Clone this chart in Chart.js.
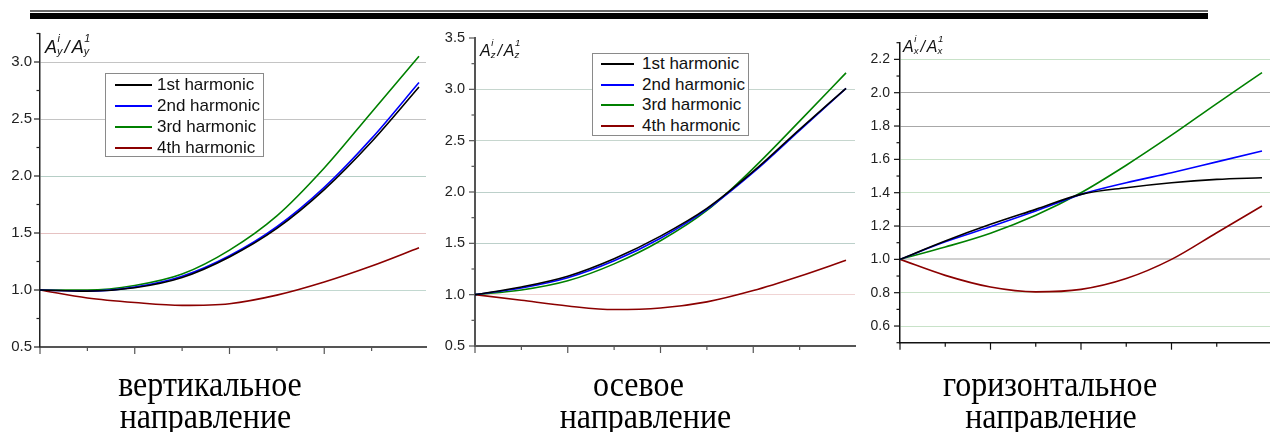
<!DOCTYPE html>
<html><head><meta charset="utf-8">
<script src="https://cdn.jsdelivr.net/npm/chart.js@4.4.1/dist/chart.umd.min.js"></script>
<style>
html,body{margin:0;padding:0;background:#fff;}
body{width:1270px;height:432px;overflow:hidden;position:relative;font-family:"Liberation Sans",Arial,sans-serif;}
canvas{position:absolute;}
.bar1{position:absolute;left:30px;top:10px;width:1178px;height:1.5px;background:#666}
.bar2{position:absolute;left:30px;top:13px;width:1178px;height:6px;background:#000}
.legend{position:absolute;background:#fff;border:1px solid #8a8a8a;box-sizing:border-box;color:#111}
.legend .ln{position:absolute;height:2px}
.legend .tx{position:absolute;white-space:nowrap;font-size:17px;line-height:20px}
.cap{position:absolute;font-family:"Liberation Serif","Times New Roman",serif;font-size:32px;color:#000;white-space:nowrap;line-height:32px;transform:translateX(-50%) scaleY(1.12);transform-origin:50% 100%}
.ttl{position:absolute;font-style:italic;color:#111;white-space:nowrap;line-height:1}
.ttl .sc{position:relative;display:inline-block;width:0.42em;height:1em;vertical-align:baseline}
.ttl .sc span{position:absolute;left:0.05em;font-size:0.6em;line-height:1}
.ttl .sc .up{top:-0.2em}
.ttl .sc .dn{top:1.05em;left:0}
.ttl .sl{margin:0 0.12em 0 0}
</style></head>
<body>
<div class="bar1"></div><div class="bar2"></div>
<canvas id="c1" width="430" height="345" style="left:0;top:20px"></canvas>
<canvas id="c2" width="430" height="345" style="left:430px;top:20px"></canvas>
<canvas id="c3" width="410" height="345" style="left:860px;top:20px"></canvas>
<div id="overlay"></div>
<script>
// ---------- data ----------
const xSteps = [0, 1, 2, 3, 4, 5, 6, 7, 8];
const seriesNames = ['1st harmonic', '2nd harmonic', '3rd harmonic', '4th harmonic'];
const seriesColors = ['#000000', '#0000ff', '#008000', '#8b0000'];

// vertical direction
const vert1st = [1.0, 0.99, 1.02, 1.11, 1.29, 1.54, 1.88, 2.30, 2.78];
const vert2nd = [1.0, 0.99, 1.025, 1.12, 1.30, 1.555, 1.90, 2.33, 2.82];
const vert3rd = [1.0, 1.0, 1.04, 1.14, 1.35, 1.65, 2.07, 2.56, 3.05];
const vert4th = [1.0, 0.93, 0.89, 0.865, 0.88, 0.955, 1.07, 1.21, 1.37];

// axial direction
const axial1st = [1.0, 1.075, 1.18, 1.35, 1.57, 1.84, 2.20, 2.61, 3.01];
const axial2nd = [1.0, 1.065, 1.165, 1.33, 1.55, 1.83, 2.19, 2.60, 3.01];
const axial3rd = [1.0, 1.045, 1.135, 1.30, 1.525, 1.82, 2.23, 2.69, 3.16];
const axial4th = [1.0, 0.945, 0.89, 0.855, 0.87, 0.93, 1.04, 1.18, 1.335];

// horizontal direction
const horiz1st = [1.0, 1.11, 1.21, 1.30, 1.39, 1.43, 1.46, 1.48, 1.49];
const horiz2nd = [1.0, 1.105, 1.195, 1.29, 1.39, 1.46, 1.52, 1.585, 1.65];
const horiz3rd = [1.0, 1.074, 1.157, 1.265, 1.40, 1.565, 1.745, 1.935, 2.12];
const horiz4th = [1.0, 0.904, 0.834, 0.805, 0.82, 0.885, 1.0, 1.16, 1.32];

// labelled y ticks
const yLabelsVert = [0.5, 1.0, 1.5, 2.0, 2.5, 3.0];
const yLabelsAxial = [0.5, 1.0, 1.5, 2.0, 2.5, 3.0, 3.5];
const yLabelsHoriz = [0.6, 0.8, 1.0, 1.2, 1.4, 1.6, 1.8, 2.0, 2.2];

const axisSubs = ['y', 'z', 'x'];
const captions = [['вертикальное', 'направление'], ['осевое', 'направление'], ['горизонтальное', 'направление']];

// ---------- styling ----------
const near = (a, b) => Math.abs(a - b) < 1e-6;
const panels = [
  { id: 'c1', series: [vert1st, vert2nd, vert3rd, vert4th], labels: yLabelsVert,
    yMin: 0.5, yMax: 3.25, yStep: 0.25, xMax: 8.148, yW: 40, xH: 18, padTop: 13.5, padRight: 4,
    fontSize: 15, labelPad: 8, yAxisColor: '#222', xAxisColor: '#555', yAxisW: 1.5, xAxisW: 2,
    grid: { '3.0': '#c4c4c4', '2.5': '#c4c4c4', '2.0': '#b6cec6', '1.5': '#e6c2c2', '1.0': '#c2d8d0' }, gridW: {} },
  { id: 'c2', series: [axial1st, axial2nd, axial3rd, axial4th], labels: yLabelsAxial,
    yMin: 0.5, yMax: 3.5, yStep: 0.25, xMax: 8.194, yW: 45, xH: 19, padTop: 18, padRight: 5,
    fontSize: 14.5, labelPad: 10, yAxisColor: '#555', xAxisColor: '#555', yAxisW: 2, xAxisW: 2,
    grid: { '3.0': '#c6d6ce', '2.5': '#c6d6ce', '2.0': '#bcd0ca', '1.5': '#bcd0ca', '1.0': '#f0d4d4' }, gridW: {} },
  { id: 'c3', series: [horiz1st, horiz2nd, horiz3rd, horiz4th], labels: yLabelsHoriz,
    yMin: 0.5, yMax: 2.3, yStep: 0.1, xMax: 8.177, yW: 40, xH: 22.3, padTop: 22.7, padRight: 0,
    fontSize: 14, labelPad: 10, yAxisColor: '#111', xAxisColor: '#111', yAxisW: 1.5, xAxisW: 1.5,
    grid: { '2.2': '#c8e2c8', '2.0': '#a8a8a8', '1.8': '#a8a8a8', '1.6': '#c8e2c8', '1.4': '#c8e2c8',
            '1.2': '#a8a8a8', '1.0': '#d0d0d0', '0.8': '#c8e2c8', '0.6': '#c8e2c8' }, gridW: { '1.0': 2 } }
];

function makeTickPlugin(p) {
  return {
    id: 'axTicks',
    afterDraw(chart) {
      const ctx = chart.ctx, xs = chart.scales.x, ys = chart.scales.y;
      ctx.save();
      ctx.lineWidth = 1.2;
      ctx.strokeStyle = p.yAxisColor;
      ys.ticks.forEach(t => {
        const major = p.labels.some(l => near(l, t.value));
        const len = major ? 6 : 3.5;
        const py = ys.getPixelForValue(t.value);
        ctx.beginPath(); ctx.moveTo(ys.right - len, py); ctx.lineTo(ys.right, py); ctx.stroke();
      });
      ctx.strokeStyle = p.xAxisColor;
      xs.ticks.forEach(t => {
        if (!near(t.value, Math.round(t.value))) return;
        const major = Math.round(t.value) % 2 === 0;
        const len = major ? 7 : 4;
        const px = xs.getPixelForValue(t.value);
        ctx.beginPath(); ctx.moveTo(px, xs.top); ctx.lineTo(px, xs.top + len); ctx.stroke();
      });
      ctx.restore();
    }
  };
}

function zeroPad(s) { s.paddingLeft = 0; s.paddingRight = 0; s.paddingTop = 0; s.paddingBottom = 0; }

panels.forEach(p => {
  const datasets = p.series.map((arr, i) => ({
    label: seriesNames[i],
    data: xSteps.map((x, j) => ({ x: x, y: arr[j] })),
    borderColor: seriesColors[i], borderWidth: 1.6, pointRadius: 0,
    cubicInterpolationMode: 'monotone', fill: false
  }));
  new Chart(document.getElementById(p.id), {
    type: 'line',
    data: { datasets },
    options: {
      responsive: false, animation: false, devicePixelRatio: 1,
      layout: { padding: { left: 0, top: p.padTop, right: p.padRight, bottom: 0 } },
      plugins: { legend: { display: false }, tooltip: { enabled: false } },
      scales: {
        x: {
          type: 'linear', min: 0, max: p.xMax,
          ticks: { stepSize: 1, display: false },
          grid: { display: false, drawTicks: false },
          border: { display: true, color: p.xAxisColor, width: p.xAxisW },
          afterFit(s) { s.height = p.xH; zeroPad(s); }
        },
        y: {
          type: 'linear', min: p.yMin, max: p.yMax,
          ticks: {
            stepSize: p.yStep, autoSkip: false, padding: p.labelPad, color: '#222',
            font: { family: 'Liberation Sans', size: p.fontSize },
            callback: v => p.labels.some(l => near(l, v)) ? Number(v).toFixed(1) : ''
          },
          grid: {
            drawTicks: false,
            color: c => { const k = Number(c.tick.value).toFixed(2).slice(0, 3); const lab = p.labels.some(l => near(l, c.tick.value)); return lab && p.grid[k] ? p.grid[k] : 'rgba(0,0,0,0)'; },
            lineWidth: c => { const k = Number(c.tick.value).toFixed(2).slice(0, 3); return p.gridW[k] || 1; }
          },
          border: { display: true, color: p.yAxisColor, width: p.yAxisW },
          afterFit(s) { s.width = p.yW; zeroPad(s); }
        }
      }
    },
    plugins: [makeTickPlugin(p)]
  });
});

// ---------- overlays: legends, axis titles, captions ----------
const overlay = document.getElementById('overlay');
function addLegend(box, rowsY, lineX0, lineX1, textX) {
  const d = document.createElement('div');
  d.className = 'legend';
  d.style.left = box[0] + 'px'; d.style.top = box[1] + 'px';
  d.style.width = box[2] + 'px'; d.style.height = box[3] + 'px';
  seriesNames.forEach((n, i) => {
    const ln = document.createElement('div');
    ln.className = 'ln';
    ln.style.left = (lineX0 - box[0] - 1) + 'px'; ln.style.width = (lineX1 - lineX0) + 'px';
    ln.style.top = (rowsY[i] - box[1] - 2) + 'px';
    ln.style.background = seriesColors[i];
    d.appendChild(ln);
    const tx = document.createElement('div');
    tx.className = 'tx';
    tx.textContent = n;
    tx.style.left = (textX - box[0] - 1) + 'px';
    tx.style.top = (rowsY[i] - box[1] - 11) + 'px';
    d.appendChild(tx);
  });
  overlay.appendChild(d);
}
addLegend([105, 73, 159, 84], [85, 106, 127, 148], 115, 152, 157);
addLegend([592, 53, 157, 83], [64, 84.5, 105, 125.5], 601, 634, 642);

function addTitle(left, top, size, sub) {
  const d = document.createElement('div');
  d.className = 'ttl';
  d.style.left = left + 'px'; d.style.top = top + 'px'; d.style.fontSize = size + 'px';
  d.innerHTML = 'A<span class="sc"><span class="up">i</span><span class="dn">' + sub + '</span></span>' +
    '<span class="sl">/</span>A<span class="sc"><span class="up">1</span><span class="dn">' + sub + '</span></span>';
  overlay.appendChild(d);
}
addTitle(45, 35, 18, axisSubs[0]);
addTitle(480, 40, 16, axisSubs[1]);
addTitle(903, 36, 16, axisSubs[2]);

const capCenters = [[210, 205.5], [638.5, 645.5], [1050, 1051]];
captions.forEach((lines, i) => {
  lines.forEach((t, j) => {
    const d = document.createElement('div');
    d.className = 'cap';
    d.textContent = t;
    d.style.left = capCenters[i][j] + 'px';
    d.style.top = (370 + j * 32) + 'px';
    overlay.appendChild(d);
  });
});
</script>
</body></html>
